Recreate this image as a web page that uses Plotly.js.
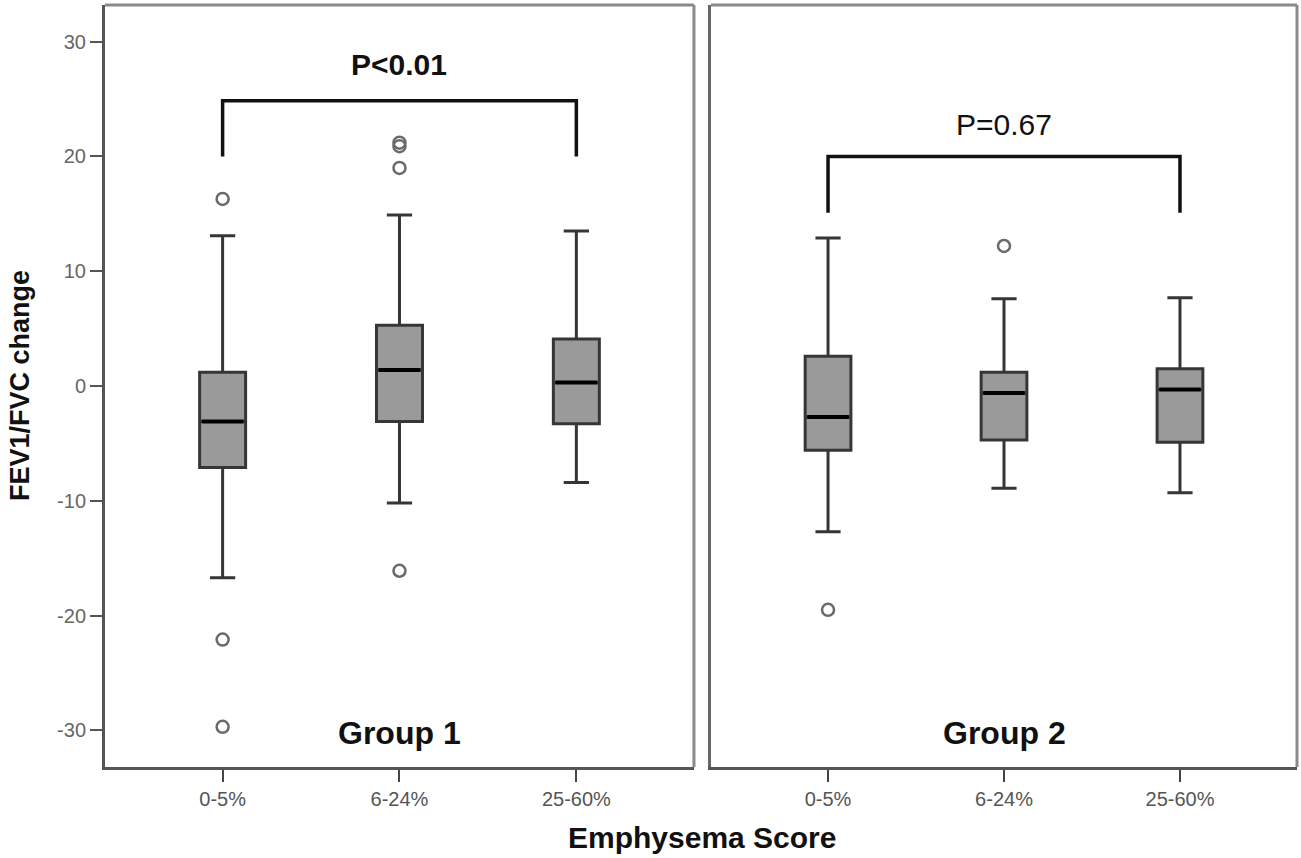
<!DOCTYPE html>
<html>
<head>
<meta charset="utf-8">
<script src="https://cdn.plot.ly/plotly-3.0.1.min.js"></script>
<style>html,body{margin:0;padding:0;background:#fff;}#chart{width:1301px;height:858px;}</style>
</head>
<body>
<div id="chart"></div>
<script>
// ---- data ----
const categories = ['0-5%', '6-24%', '25-60%'];
const yTicks = [-30, -20, -10, 0, 10, 20, 30];
const yTickText = ['-30', '-20', '-10', '0', '10', '20', '30'];

// Group 1
const g1Lower  = [-16.7, -10.2, -8.4];
const g1Q1     = [-7.1, -3.1, -3.3];
const g1Median = [-3.1, 1.4, 0.3];
const g1Q3     = [1.2, 5.3, 4.1];
const g1Upper  = [13.1, 14.9, 13.5];
const g1OutCat = [0, 0, 0, 1, 1, 1, 1];
const g1OutVal = [16.3, -22.1, -29.7, 21.2, 20.9, 19.0, -16.1];

// Group 2
const g2Lower  = [-12.7, -8.9, -9.3];
const g2Q1     = [-5.6, -4.7, -4.9];
const g2Median = [-2.7, -0.6, -0.3];
const g2Q3     = [2.6, 1.2, 1.5];
const g2Upper  = [12.9, 7.6, 7.7];
const g2OutCat = [0, 1];
const g2OutVal = [-19.5, 12.2];

// significance brackets: [group1, group2]
const pLabels   = ['P<0.01', 'P=0.67'];
const pBold     = [true, false];
const bracketTop = [24.85, 20.0];
const bracketLeg = [20.0, 15.1];
const pLabelY    = [28.0, 22.8];
const groupLabels = ['Group 1', 'Group 2'];

// ---- styling ----
const BOXW = 0.26;
const FONT = 'Liberation Sans, Arial, sans-serif';
const idx = categories.map((_, i) => i);

function boxTrace(lo, q1, med, q3, up, xa, ya) {
  return {
    type: 'box', x: idx, q1: q1, median: med, q3: q3,
    lowerfence: lo, upperfence: up,
    xaxis: xa, yaxis: ya, width: BOXW, whiskerwidth: 0.55,
    fillcolor: '#9a9a9a', line: {color: '#363636', width: 3},
    boxpoints: false, showlegend: false, hoverinfo: 'skip'
  };
}
function medianTrace(med, xa, ya) {
  const x = [], y = [];
  med.forEach((m, i) => { x.push(i - BOXW / 2 + 0.012, i + BOXW / 2 - 0.012, null); y.push(m, m, null); });
  return {type: 'scatter', mode: 'lines', x: x, y: y, xaxis: xa, yaxis: ya,
    line: {color: '#000', width: 4}, showlegend: false, hoverinfo: 'skip'};
}
function outlierTrace(cats, vals, xa, ya) {
  return {type: 'scatter', mode: 'markers', x: cats, y: vals, xaxis: xa, yaxis: ya,
    marker: {symbol: 'circle-open', size: 12, color: '#6a6a6a', line: {width: 2.5, color: '#6a6a6a'}},
    showlegend: false, hoverinfo: 'skip'};
}

const data = [
  boxTrace(g1Lower, g1Q1, g1Median, g1Q3, g1Upper, 'x', 'y'),
  medianTrace(g1Median, 'x', 'y'),
  outlierTrace(g1OutCat, g1OutVal, 'x', 'y'),
  boxTrace(g2Lower, g2Q1, g2Median, g2Q3, g2Upper, 'x2', 'y2'),
  medianTrace(g2Median, 'x2', 'y2'),
  outlierTrace(g2OutCat, g2OutVal, 'x2', 'y2')
];

const xCommon = {
  range: [-0.665, 2.665], tickmode: 'array', tickvals: idx, ticktext: categories,
  ticks: 'outside', ticklen: 12, tickwidth: 2, tickcolor: '#444',
  showline: true, linecolor: '#555', linewidth: 3, showgrid: false, zeroline: false,
  tickfont: {family: FONT, size: 20, color: '#555'}, fixedrange: true
};
const yRange = [-33.2, 33.2];

const shapes = [];
const annotations = [];
['x', 'x2'].forEach((xa, g) => {
  const ya = g === 0 ? 'y' : 'y2';
  // bracket
  shapes.push({type: 'path', xref: xa, yref: ya,
    path: `M 0 ${bracketLeg[g]} L 0 ${bracketTop[g]} L 2 ${bracketTop[g]} L 2 ${bracketLeg[g]}`,
    line: {color: '#111', width: 3.5}});
  annotations.push({xref: xa, yref: ya, x: 1, y: pLabelY[g], text: pBold[g] ? '<b>' + pLabels[g] + '</b>' : pLabels[g],
    showarrow: false, font: {family: FONT, size: 30, color: '#111'}, xanchor: 'center', yanchor: 'middle'});
  annotations.push({xref: xa + ' domain', yref: ya + ' domain', x: 0.5, y: 0.045,
    text: '<b>' + groupLabels[g] + '</b>', showarrow: false,
    font: {family: FONT, size: 32, color: '#111'}, xanchor: 'center', yanchor: 'middle'});
  // top and right frame (lighter)
  shapes.push({type: 'line', xref: xa + ' domain', yref: ya + ' domain', x0: 0, x1: 1, y0: 1, y1: 1,
    line: {color: '#8a8a8a', width: 3}});
  shapes.push({type: 'line', xref: xa + ' domain', yref: ya + ' domain', x0: 1, x1: 1, y0: 0, y1: 1,
    line: {color: '#8a8a8a', width: 3}});
});

annotations.push({xref: 'paper', yref: 'paper', x: -0.0713, y: 0.5, textangle: -90,
  text: '<b>FEV1/FVC change</b>', showarrow: false,
  font: {family: FONT, size: 27, color: '#111'}, xanchor: 'center', yanchor: 'middle'});
annotations.push({xref: 'paper', yref: 'paper', x: 0.5008, y: -0.093,
  text: '<b>Emphysema Score</b>', showarrow: false,
  font: {family: FONT, size: 30, color: '#111'}, xanchor: 'center', yanchor: 'middle'});

const layout = {
  width: 1301, height: 858,
  margin: {l: 105, r: 4, t: 5, b: 91},
  paper_bgcolor: '#fff', plot_bgcolor: '#fff',
  showlegend: false, hovermode: false,
  xaxis: Object.assign({}, xCommon, {domain: [0, 0.4941], anchor: 'y'}),
  xaxis2: Object.assign({}, xCommon, {domain: [0.5084, 1], anchor: 'y2'}),
  yaxis: {range: yRange, tickmode: 'array', tickvals: yTicks, ticktext: yTickText, ticks: 'outside', ticklen: 12,
    tickwidth: 2, tickcolor: '#555', showline: true, linecolor: '#555', linewidth: 3,
    showgrid: false, zeroline: false, anchor: 'x',
    tickfont: {family: FONT, size: 20, color: '#666'}, fixedrange: true},
  yaxis2: {range: yRange, showticklabels: false, ticks: '', showline: true, linecolor: '#666',
    linewidth: 3, showgrid: false, zeroline: false, anchor: 'x2', fixedrange: true},
  shapes: shapes, annotations: annotations
};

Plotly.newPlot('chart', data, layout, {staticPlot: true, displayModeBar: false});
</script>
</body>
</html>
